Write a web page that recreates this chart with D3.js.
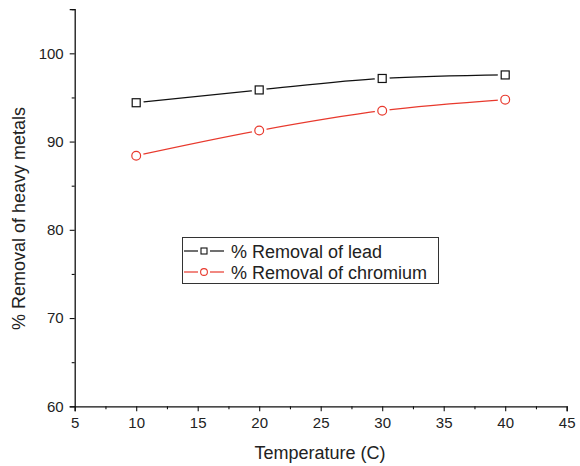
<!DOCTYPE html>
<html><head><meta charset="utf-8">
<script src="https://cdn.jsdelivr.net/npm/d3@7"></script>
<style>body{margin:0;background:#fff}svg{display:block}text{font-family:"Liberation Sans",Arial,sans-serif;fill:#222}</style>
</head><body><svg id="c" width="580" height="466"></svg>
<script>
const temperature = [10, 20, 30, 40];
const leadRemoval = [94.4, 95.85, 97.15, 97.55];
const chromiumRemoval = [88.4, 91.25, 93.5, 94.75];
const xTicks = [5, 10, 15, 20, 25, 30, 35, 40, 45];
const yTicks = [60, 70, 80, 90, 100];
const seriesNames = ["% Removal of lead", "% Removal of chromium"];

const svg = d3.select("#c");
const x = d3.scaleLinear().domain([5, 45]).range([74.7, 566.7]);
const y = d3.scaleLinear().domain([60, 105]).range([406.3, 9.2]);

// axes
const xAxis = svg.append("g").attr("transform", "translate(0,406.3)");
xAxis.call(d3.axisBottom(x).tickValues(xTicks).tickSize(5).tickPadding(6).tickFormat(d3.format("d")));
const xMinor = svg.append("g").attr("transform", "translate(0,406.3)");
xMinor.call(d3.axisBottom(x).tickValues(d3.range(7.5, 45, 5)).tickSize(3).tickFormat(""));
const yAxis = svg.append("g").attr("transform", "translate(74.7,0)");
yAxis.call(d3.axisLeft(y).tickValues(yTicks).tickSize(5).tickPadding(6).tickFormat(d3.format("d")));
const yMinor = svg.append("g").attr("transform", "translate(74.7,0)");
yMinor.call(d3.axisLeft(y).tickValues([65, 75, 85, 95, 105]).tickSize(3).tickFormat(""));
svg.selectAll(".domain").attr("stroke", "#111").attr("stroke-width", 1.3);
svg.selectAll(".tick line").attr("stroke", "#111").attr("stroke-width", 1.1);
svg.selectAll(".tick text").attr("font-size", 15).style("fill", "#222");
xMinor.select(".domain").remove(); yMinor.select(".domain").remove();

// titles
svg.append("text").attr("x", 320).attr("y", 459).attr("text-anchor", "middle").attr("font-size", 18).text("Temperature (C)");
svg.append("text").attr("transform", "translate(25,218.5) rotate(-90)").attr("text-anchor", "middle").attr("font-size", 18).text("% Removal of heavy metals");

const line = d3.line().x(d => x(d[0])).y(d => y(d[1])).curve(d3.curveMonotoneX);
const series = [
  {vals: leadRemoval, color: "#111", shape: "square"},
  {vals: chromiumRemoval, color: "#e8392d", shape: "circle"}
];
series.forEach(s => {
  const pts = temperature.map((t, i) => [t, s.vals[i]]);
  svg.append("path").datum(pts).attr("d", line).attr("fill", "none").attr("stroke", s.color).attr("stroke-width", 1.2);
  const g = svg.append("g");
  pts.forEach(p => {
    const cx = x(p[0]), cy = y(p[1]);
    g.append("circle").attr("cx", cx).attr("cy", cy).attr("r", 7.5).attr("fill", "#fff");
    if (s.shape === "square") {
      g.append("rect").attr("x", cx - 4).attr("y", cy - 4).attr("width", 8).attr("height", 8).attr("fill", "#fff").attr("stroke", s.color).attr("stroke-width", 1.2);
    } else {
      g.append("circle").attr("cx", cx).attr("cy", cy).attr("r", 4.4).attr("fill", "#fff").attr("stroke", s.color).attr("stroke-width", 1.2);
    }
  });
});

// legend
const lg = svg.append("g");
lg.append("rect").attr("x", 182.5).attr("y", 237.5).attr("width", 256).attr("height", 46).attr("fill", "#fff").attr("stroke", "#333").attr("stroke-width", 1);
series.forEach((s, i) => {
  const cy = 251 + i * 21;
  lg.append("line").attr("x1", 184).attr("x2", 198).attr("y1", cy).attr("y2", cy).attr("stroke", s.color).attr("stroke-width", 1.2);
  lg.append("line").attr("x1", 210).attr("x2", 224).attr("y1", cy).attr("y2", cy).attr("stroke", s.color).attr("stroke-width", 1.2);
  if (s.shape === "square") {
    lg.append("rect").attr("x", 201).attr("y", cy - 3).attr("width", 6).attr("height", 6).attr("fill", "#fff").attr("stroke", s.color).attr("stroke-width", 1.1);
  } else {
    lg.append("circle").attr("cx", 204).attr("cy", cy).attr("r", 3.4).attr("fill", "#fff").attr("stroke", s.color).attr("stroke-width", 1.1);
  }
  lg.append("text").attr("x", 231).attr("y", cy + 6.5).attr("font-size", 18).text(seriesNames[i]);
});
</script></body></html>
